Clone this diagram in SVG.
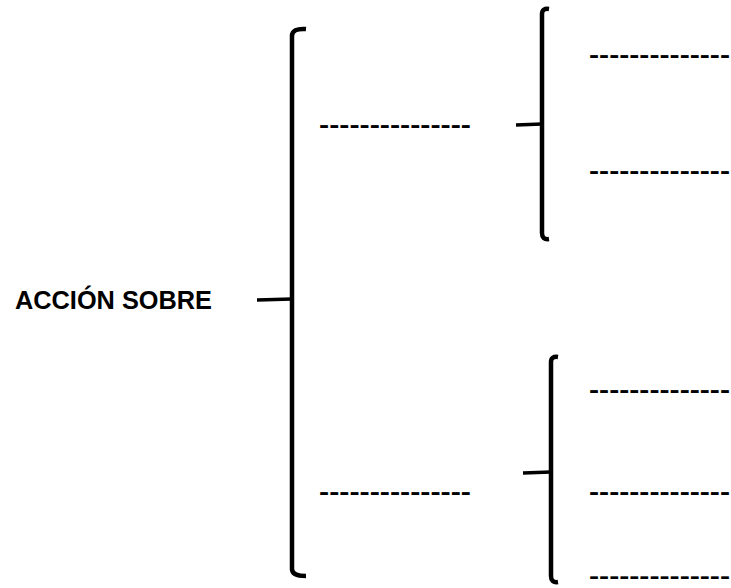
<svg xmlns="http://www.w3.org/2000/svg" width="731" height="588" viewBox="0 0 731 588">
<style>
.br{fill:none;stroke:#000;stroke-width:4.5;stroke-linejoin:round;stroke-linecap:butt}
.tk{fill:none;stroke:#000;stroke-width:3.5}
.d{font-family:"Liberation Sans",Arial,sans-serif;font-size:24px;font-weight:bold;fill:#000}
.s{font-size:22px}
.t{font-family:"Liberation Sans",Arial,sans-serif;font-size:25px;font-weight:bold;fill:#000}
</style>
<rect width="731" height="588" fill="#fff"/>
<g id="connectors">
<path class="br" d="M306,29 Q292,28 292,36 L292,569 Q292,576 306,576"/>
<path class="tk" d="M257,300 L292,299"/>
<path class="br" d="M549,9 Q542,8 542,14 L542,233 Q542,240 549,239"/>
<path class="tk" d="M516,125 L542,124"/>
<path class="br" d="M558,357 Q551,356 551,362 L551,576 Q551,583 558,582"/>
<path class="tk" d="M523,473 L551,472"/>
</g>
<g id="root"><text class="t" x="15" y="309" textLength="197" lengthAdjust="spacingAndGlyphs">ACCIÓN SOBRE</text></g>
<g id="mid1"><text class="d" x="319" y="133" textLength="152" lengthAdjust="spacingAndGlyphs">---------------</text></g>
<g id="mid2"><text class="d" x="319" y="500" textLength="152" lengthAdjust="spacingAndGlyphs">---------------</text></g>
<g id="leaf1"><text class="d" x="589" y="63" textLength="141" lengthAdjust="spacingAndGlyphs">--------------</text></g>
<g id="leaf2"><text class="d" x="589" y="179" textLength="141" lengthAdjust="spacingAndGlyphs">--------------</text></g>
<g id="leaf3"><text class="d" x="589" y="398" textLength="141" lengthAdjust="spacingAndGlyphs">--------------</text></g>
<g id="leaf4"><text class="d" x="589" y="500" textLength="141" lengthAdjust="spacingAndGlyphs">--------------</text></g>
<g id="leaf5"><text class="d s" x="589" y="583" textLength="141" lengthAdjust="spacingAndGlyphs">--------------</text></g>
</svg>
